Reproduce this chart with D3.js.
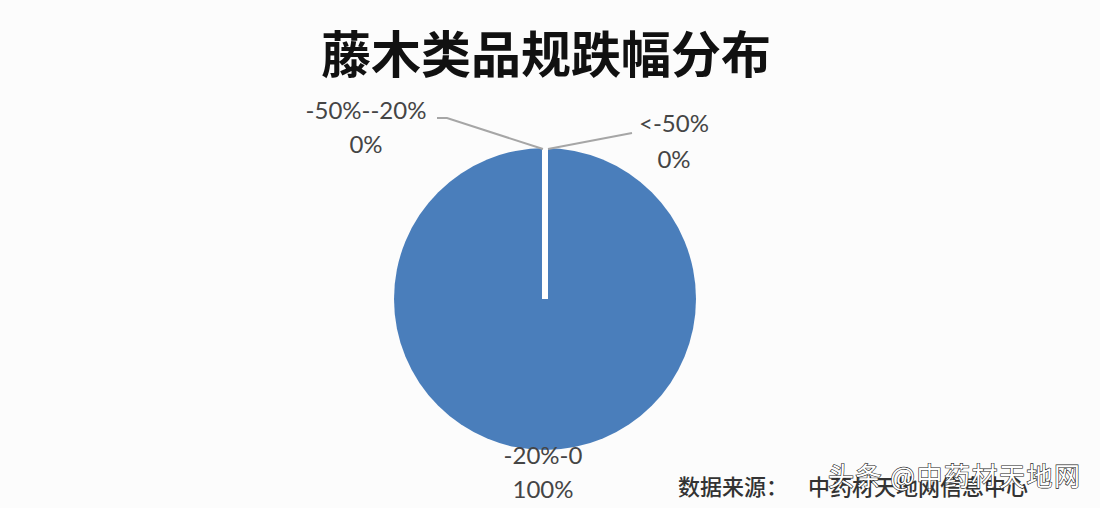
<!DOCTYPE html>
<html><head><meta charset="utf-8">
<script src="https://cdn.jsdelivr.net/npm/d3@7"></script>
<style>body{margin:0;background:#fcfcfc;}svg{display:block;}</style>
</head><body>
<svg id="c" width="1100" height="508"></svg>
<script>
const title = "藤木类品规跌幅分布";
const categories = ["<-50%", "-50%--20%", "-20%-0"];
const values = [0, 0, 100];
const percentLabels = ["0%", "0%", "100%"];
const sourceLabel = "数据来源：";
const sourceName = "中药材天地网信息中心";
const watermark = "头条 @中药材天地网";

const svg = d3.select("#c");
const W = 1100, H = 508;
svg.append("rect").attr("width", W).attr("height", H).attr("fill", "#fcfcfc");

svg.append("text").attr("x", 546).attr("y", 73).attr("text-anchor", "middle")
  .attr("font-family", "Noto Sans CJK SC").attr("font-weight", 700)
  .attr("font-size", 50).attr("fill", "#111").text(title);

const cx = 545, cy = 299, R = 151;
const pie = d3.pie().sort(null).value(d => d)
  .startAngle(0).endAngle(2 * Math.PI);
const arcs = pie(values);
const arc = d3.arc().innerRadius(0).outerRadius(R);
const g = svg.append("g").attr("transform", `translate(${cx},${cy})`);

// main slices (non-zero)
g.selectAll("path.s").data(arcs.filter(a => a.value > 0)).join("path")
  .attr("class", "s").attr("d", arc).attr("fill", "#4a7ebb");
// zero slices: drawn as white radial separators
g.selectAll("path.z").data(arcs.filter(a => a.value === 0)).join("path")
  .attr("class", "z").attr("d", arc).attr("fill", "none")
  .attr("stroke", "#ffffff").attr("stroke-width", 6).attr("stroke-linecap", "square");

// labels
const labelPos = {
  "<-50%": {x: 674, y1: 132, y2: 168, line: [[632, 133], [548, 149]]},
  "-50%--20%": {x: 366, y1: 119, y2: 153, line: [[437, 118], [447, 118], [543, 149]]},
  "-20%-0": {x: 543, y1: 464, y2: 498, line: null}
};
const lineGen = d3.line();
arcs.forEach((a, i) => {
  const p = labelPos[categories[i]];
  if (p.line) {
    svg.append("path").attr("d", lineGen(p.line)).attr("fill", "none")
      .attr("stroke", "#a6a6a6").attr("stroke-width", 2);
  }
  const t = svg.append("text").attr("text-anchor", "middle")
    .attr("font-family", "Lato").attr("font-size", 24).attr("fill", "#454545");
  t.append("tspan").attr("x", p.x).attr("y", p.y1).text(categories[i]);
  t.append("tspan").attr("x", p.x).attr("y", p.y2).text(percentLabels[i]);
});

svg.append("text").attr("x", 678).attr("y", 495)
  .attr("font-family", "Noto Sans CJK SC").attr("font-size", 22).attr("font-weight", 500)
  .attr("fill", "#333").text(sourceLabel);
svg.append("text").attr("x", 808).attr("y", 495)
  .attr("font-family", "Noto Sans CJK SC").attr("font-size", 22).attr("font-weight", 500)
  .attr("fill", "#333").text(sourceName);

svg.append("text").attr("x", 828).attr("y", 486)
  .attr("font-family", "Noto Sans CJK SC").attr("font-size", 26).attr("letter-spacing", 1.5)
  .attr("fill", "#ffffff").attr("stroke", "#222").attr("stroke-width", 1.2)
  .attr("paint-order", "stroke").style("white-space", "pre").text(watermark);
</script>
</body></html>
